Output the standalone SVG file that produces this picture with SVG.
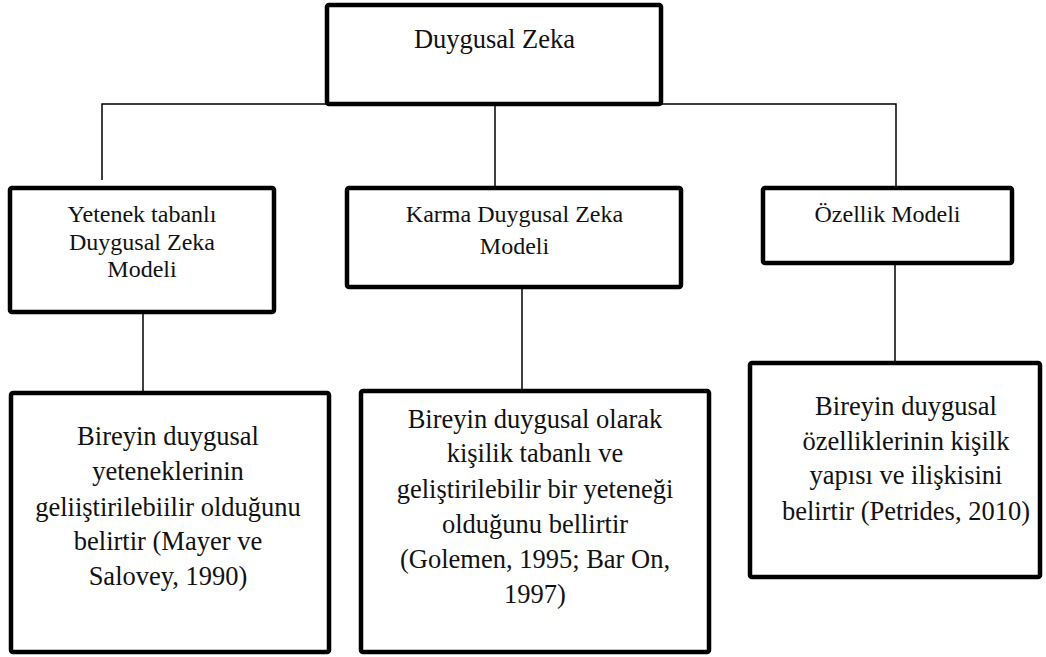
<svg xmlns="http://www.w3.org/2000/svg" width="1046" height="657" viewBox="0 0 1046 657">
  <style>
    .box { fill: #ffffff; stroke: #000000; stroke-width: 4.5; stroke-linejoin: round; }
    .link { fill: none; stroke: #000000; stroke-width: 1.5; }
    .t { font-family: "Liberation Serif", "Times New Roman", serif; fill: #111111; text-anchor: middle; }
    .big { font-size: 26.5px; }
    .mid { font-size: 24px; }
  </style>
  <rect width="1046" height="657" fill="#ffffff"/>

  <!-- connectors -->
  <g id="connectors">
    <polyline class="link" points="102,180 102,104 896,104 896,188"/>
    <line class="link" x1="495" y1="104" x2="495" y2="188"/>
    <line class="link" x1="143" y1="312" x2="143" y2="393"/>
    <line class="link" x1="522" y1="287" x2="522" y2="391"/>
    <line class="link" x1="895" y1="263" x2="895" y2="363"/>
  </g>

  <!-- root -->
  <g id="root">
    <rect class="box" x="327" y="5" width="334" height="99" rx="2"/>
    <text class="t big" x="494.5" y="48">Duygusal Zeka</text>
  </g>

  <!-- model boxes -->
  <g id="model-ability">
    <rect class="box" x="10" y="188" width="264" height="124" rx="2"/>
    <text class="t mid" x="142" y="222">Yetenek tabanlı</text>
    <text class="t mid" x="142" y="250">Duygusal Zeka</text>
    <text class="t mid" x="142" y="277">Modeli</text>
  </g>
  <g id="model-mixed">
    <rect class="box" x="347" y="188" width="334" height="99" rx="2"/>
    <text class="t mid" x="514.5" y="222">Karma Duygusal Zeka</text>
    <text class="t mid" x="514.5" y="254">Modeli</text>
  </g>
  <g id="model-trait">
    <rect class="box" x="763" y="188" width="249" height="75" rx="2"/>
    <text class="t mid" x="887.5" y="222">Özellik Modeli</text>
  </g>

  <!-- description boxes -->
  <g id="desc-ability">
    <rect class="box" x="11" y="393" width="318" height="259" rx="2"/>
    <text class="t big" x="168" y="445">Bireyin duygusal</text>
    <text class="t big" x="168" y="480">yeteneklerinin</text>
    <text class="t big" x="168" y="516">geliiştirilebiilir olduğunu</text>
    <text class="t big" x="168" y="550">belirtir (Mayer ve</text>
    <text class="t big" x="168" y="585">Salovey, 1990)</text>
  </g>
  <g id="desc-mixed">
    <rect class="box" x="361" y="391" width="348" height="261" rx="2"/>
    <text class="t big" x="535" y="428">Bireyin duygusal olarak</text>
    <text class="t big" x="535" y="462">kişilik tabanlı ve</text>
    <text class="t big" x="535" y="498">geliştirilebilir bir yeteneği</text>
    <text class="t big" x="535" y="533">olduğunu bellirtir</text>
    <text class="t big" x="535" y="568">(Golemen, 1995; Bar On,</text>
    <text class="t big" x="535" y="603">1997)</text>
  </g>
  <g id="desc-trait">
    <rect class="box" x="750" y="363" width="290" height="214" rx="2"/>
    <text class="t big" x="906" y="415">Bireyin duygusal</text>
    <text class="t big" x="906" y="450">özelliklerinin kişilk</text>
    <text class="t big" x="906" y="484">yapısı ve ilişkisini</text>
    <text class="t big" x="906" y="520">belirtir (Petrides, 2010)</text>
  </g>
</svg>
